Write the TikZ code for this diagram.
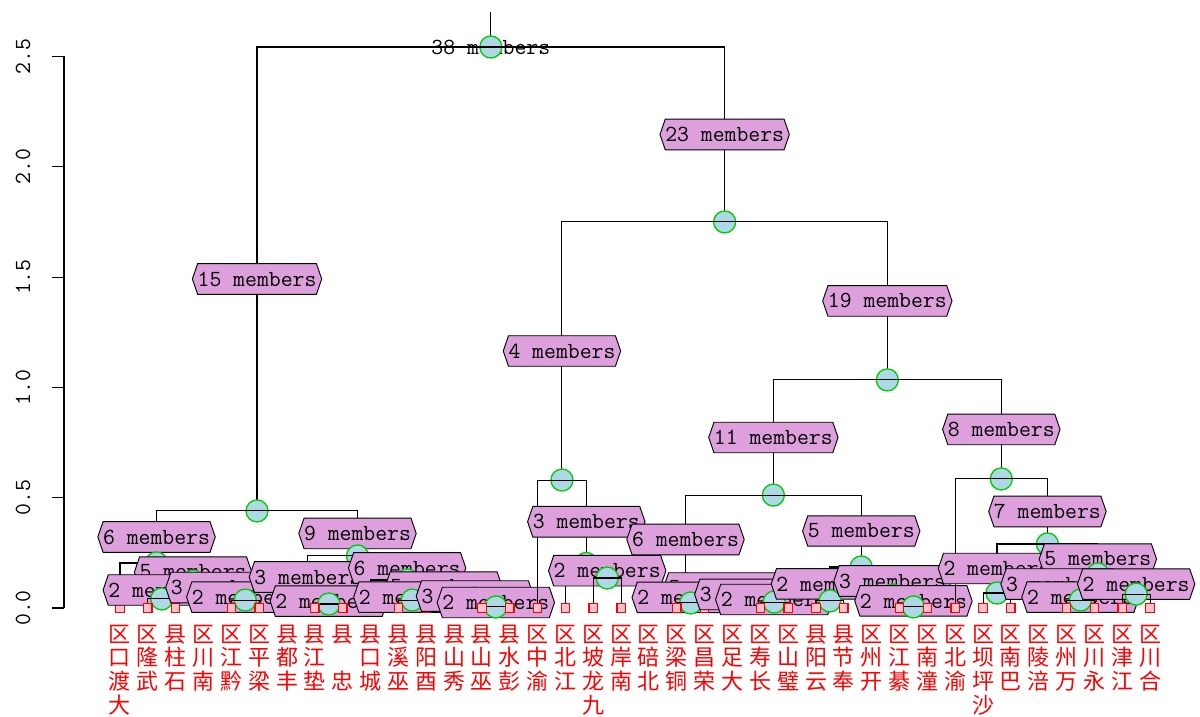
\documentclass[tikz,border=0pt]{standalone}
\usepackage{fontspec}
\newfontfamily\cjk{Noto Sans CJK SC}
\usetikzlibrary{calc,shapes.symbols}
\definecolor{plumbox}{HTML}{DDA0DD}
\definecolor{nodeblue}{HTML}{ADD8E6}
\definecolor{nodegreen}{HTML}{00CD00}
\definecolor{leafpink}{HTML}{FFC0CB}

\begin{document}
\begin{tikzpicture}[
    x=20.88pt, y=165.45pt,
    branch/.style={line width=0.8pt},
    inode/.style={circle, draw=nodegreen, fill=nodeblue, line width=1pt, minimum size=16.5pt, inner sep=0pt},
    leafbox/.style={rectangle, draw=red, fill=leafpink, line width=0.9pt, minimum size=6.3pt, inner sep=0pt},
    elab/.style={signal, signal to=east and west, signal pointer angle=142, draw, fill=plumbox, line width=0.7pt, inner xsep=0pt, inner ysep=6pt, font=\fontsize{17.3}{20}\selectfont\ttfamily},
    leaflab/.style={anchor=north, text=red, align=center, inner sep=0pt, font=\fontsize{16.5}{17.8}\selectfont\cjk}
  ]
    \useasboundingbox (-3.3103,-0.4941) rectangle (39.7931,2.7561);
    % axis
    \coordinate (ax0) at (-1.0115,0);
    \coordinate (ax1) at (-1.0115,2.5);
    \draw[branch] (ax0) -- (ax1);
    \foreach \t in {0.0,0.5,1.0,1.5,2.0,2.5} {
      \draw[branch] (-1.0115,\t) -- (-1.46,\t);
      \node[rotate=90, font=\fontsize{17.3}{20}\selectfont\ttfamily] (tick\t) at (-2.48,\t) {\t};
    }
    % leaves and merge heights
    \foreach \i in {1,...,38} \coordinate (l\i) at (\i,0);
    \coordinate (g1to38) at (14.3203,2.543);
    \coordinate (top) at (14.3203,2.702);
    \coordinate (g1to15) at (5.921875,0.440);
    \coordinate (g1to6) at (2.3125,0.204);
    \coordinate (g2to6) at (3.625,0.122);
    \coordinate (g2to3) at (2.5,0.041);
    \coordinate (g4to6) at (4.75,0.063);
    \coordinate (g5to6) at (5.5,0.036);
    \coordinate (g7to15) at (9.53125,0.236);
    \coordinate (g7to9) at (7.75,0.045);
    \coordinate (g8to9) at (8.5,0.018);
    \coordinate (g10to15) at (11.3125,0.127);
    \coordinate (g11to15) at (12.625,0.063);
    \coordinate (g11to12) at (11.5,0.036);
    \coordinate (g13to15) at (13.75,0.045);
    \coordinate (g14to15) at (14.5,0.005);
    \coordinate (g16to38) at (22.71875,1.750);
    \coordinate (g16to19) at (16.875,0.580);
    \coordinate (g17to19) at (17.75,0.202);
    \coordinate (g18to19) at (18.5,0.136);
    \coordinate (g20to38) at (28.5625,1.034);
    \coordinate (g20to30) at (24.46875,0.512);
    \coordinate (g20to25) at (21.3125,0.109);
    \coordinate (g21to25) at (22.625,0.073);
    \coordinate (g21to22) at (21.5,0.023);
    \coordinate (g23to25) at (23.75,0.050);
    \coordinate (g24to25) at (24.5,0.027);
    \coordinate (g26to30) at (27.625,0.186);
    \coordinate (g26to27) at (26.5,0.032);
    \coordinate (g28to30) at (28.75,0.059);
    \coordinate (g29to30) at (29.5,0.005);
    \coordinate (g31to38) at (32.65625,0.585);
    \coordinate (g32to38) at (34.3125,0.290);
    \coordinate (g32to33) at (32.5,0.068);
    \coordinate (g34to38) at (36.125,0.154);
    \coordinate (g34to36) at (34.75,0.063);
    \coordinate (g35to36) at (35.5,0.036);
    \coordinate (g37to38) at (37.5,0.063);

    % root
    \draw[branch] (g1to38) -- (top);
    \node[inner sep=0pt, font=\fontsize{17.3}{20}\selectfont\ttfamily] (t1to38) at (g1to38) {38 members};
    \node[inode] (o1to38) at (g1to38) {};
    % left part, 15 members
    \draw[branch] (g1to38) -| (g1to15);
    \node[elab] (t1to15) at ($(g1to15)!.5!(g1to15 |- g1to38)$) {15 members};
    \node[inode] (o1to15) at (g1to15) {};
    \draw[branch] (g1to15) -| (g1to6);
    \node[elab] (t1to6) at ($(g1to6)!.5!(g1to6 |- g1to15)$) {6 members};
    \node[inode] (o1to6) at (g1to6) {};
    \draw[branch] (g1to6) -| (l1); \node[leafbox] (s1) at (l1) {};
    \draw[branch] (g1to6) -| (g2to6);
    \node[elab] (t2to6) at ($(g2to6)!.5!(g2to6 |- g1to6)$) {5 members};
    \node[inode] (o2to6) at (g2to6) {};
    \draw[branch] (g2to6) -| (g2to3);
    \node[elab] (t2to3) at ($(g2to3)!.5!(g2to3 |- g2to6)$) {2 members};
    \node[inode] (o2to3) at (g2to3) {};
    \draw[branch] (g2to3) -| (l2); \node[leafbox] (s2) at (l2) {};
    \draw[branch] (g2to3) -| (l3); \node[leafbox] (s3) at (l3) {};
    \draw[branch] (g2to6) -| (g4to6);
    \node[elab] (t4to6) at ($(g4to6)!.5!(g4to6 |- g2to6)$) {3 members};
    \node[inode] (o4to6) at (g4to6) {};
    \draw[branch] (g4to6) -| (l4); \node[leafbox] (s4) at (l4) {};
    \draw[branch] (g4to6) -| (g5to6);
    \node[elab] (t5to6) at ($(g5to6)!.5!(g5to6 |- g4to6)$) {2 members};
    \node[inode] (o5to6) at (g5to6) {};
    \draw[branch] (g5to6) -| (l5); \node[leafbox] (s5) at (l5) {};
    \draw[branch] (g5to6) -| (l6); \node[leafbox] (s6) at (l6) {};
    \draw[branch] (g1to15) -| (g7to15);
    \node[elab] (t7to15) at ($(g7to15)!.5!(g7to15 |- g1to15)$) {9 members};
    \node[inode] (o7to15) at (g7to15) {};
    \draw[branch] (g7to15) -| (g7to9);
    \node[elab] (t7to9) at ($(g7to9)!.5!(g7to9 |- g7to15)$) {3 members};
    \node[inode] (o7to9) at (g7to9) {};
    \draw[branch] (g7to9) -| (l7); \node[leafbox] (s7) at (l7) {};
    \draw[branch] (g7to9) -| (g8to9);
    \node[elab] (t8to9) at ($(g8to9)!.5!(g8to9 |- g7to9)$) {2 members};
    \node[inode] (o8to9) at (g8to9) {};
    \draw[branch] (g8to9) -| (l8); \node[leafbox] (s8) at (l8) {};
    \draw[branch] (g8to9) -| (l9); \node[leafbox] (s9) at (l9) {};
    \draw[branch] (g7to15) -| (g10to15);
    \node[elab] (t10to15) at ($(g10to15)!.5!(g10to15 |- g7to15)$) {6 members};
    \node[inode] (o10to15) at (g10to15) {};
    \draw[branch] (g10to15) -| (l10); \node[leafbox] (s10) at (l10) {};
    \draw[branch] (g10to15) -| (g11to15);
    \node[elab] (t11to15) at ($(g11to15)!.5!(g11to15 |- g10to15)$) {5 members};
    \node[inode] (o11to15) at (g11to15) {};
    \draw[branch] (g11to15) -| (g11to12);
    \node[elab] (t11to12) at ($(g11to12)!.5!(g11to12 |- g11to15)$) {2 members};
    \node[inode] (o11to12) at (g11to12) {};
    \draw[branch] (g11to12) -| (l11); \node[leafbox] (s11) at (l11) {};
    \draw[branch] (g11to12) -| (l12); \node[leafbox] (s12) at (l12) {};
    \draw[branch] (g11to15) -| (g13to15);
    \node[elab] (t13to15) at ($(g13to15)!.5!(g13to15 |- g11to15)$) {3 members};
    \node[inode] (o13to15) at (g13to15) {};
    \draw[branch] (g13to15) -| (l13); \node[leafbox] (s13) at (l13) {};
    \draw[branch] (g13to15) -| (g14to15);
    \node[elab] (t14to15) at ($(g14to15)!.5!(g14to15 |- g13to15)$) {2 members};
    \node[inode] (o14to15) at (g14to15) {};
    \draw[branch] (g14to15) -| (l14); \node[leafbox] (s14) at (l14) {};
    \draw[branch] (g14to15) -| (l15); \node[leafbox] (s15) at (l15) {};
    % right part, 23 members
    \draw[branch] (g1to38) -| (g16to38);
    \node[elab] (t16to38) at ($(g16to38)!.5!(g16to38 |- g1to38)$) {23 members};
    \node[inode] (o16to38) at (g16to38) {};
    \draw[branch] (g16to38) -| (g16to19);
    \node[elab] (t16to19) at ($(g16to19)!.5!(g16to19 |- g16to38)$) {4 members};
    \node[inode] (o16to19) at (g16to19) {};
    \draw[branch] (g16to19) -| (l16); \node[leafbox] (s16) at (l16) {};
    \draw[branch] (g16to19) -| (g17to19);
    \node[elab] (t17to19) at ($(g17to19)!.5!(g17to19 |- g16to19)$) {3 members};
    \node[inode] (o17to19) at (g17to19) {};
    \draw[branch] (g17to19) -| (l17); \node[leafbox] (s17) at (l17) {};
    \draw[branch] (g17to19) -| (g18to19);
    \node[elab] (t18to19) at ($(g18to19)!.5!(g18to19 |- g17to19)$) {2 members};
    \node[inode] (o18to19) at (g18to19) {};
    \draw[branch] (g18to19) -| (l18); \node[leafbox] (s18) at (l18) {};
    \draw[branch] (g18to19) -| (l19); \node[leafbox] (s19) at (l19) {};
    \draw[branch] (g16to38) -| (g20to38);
    \node[elab] (t20to38) at ($(g20to38)!.5!(g20to38 |- g16to38)$) {19 members};
    \node[inode] (o20to38) at (g20to38) {};
    \draw[branch] (g20to38) -| (g20to30);
    \node[elab] (t20to30) at ($(g20to30)!.5!(g20to30 |- g20to38)$) {11 members};
    \node[inode] (o20to30) at (g20to30) {};
    \draw[branch] (g20to30) -| (g20to25);
    \node[elab] (t20to25) at ($(g20to25)!.5!(g20to25 |- g20to30)$) {6 members};
    \node[inode] (o20to25) at (g20to25) {};
    \draw[branch] (g20to25) -| (l20); \node[leafbox] (s20) at (l20) {};
    \draw[branch] (g20to25) -| (g21to25);
    \node[elab] (t21to25) at ($(g21to25)!.5!(g21to25 |- g20to25)$) {5 members};
    \node[inode] (o21to25) at (g21to25) {};
    \draw[branch] (g21to25) -| (g21to22);
    \node[elab] (t21to22) at ($(g21to22)!.5!(g21to22 |- g21to25)$) {2 members};
    \node[inode] (o21to22) at (g21to22) {};
    \draw[branch] (g21to22) -| (l21); \node[leafbox] (s21) at (l21) {};
    \draw[branch] (g21to22) -| (l22); \node[leafbox] (s22) at (l22) {};
    \draw[branch] (g21to25) -| (g23to25);
    \node[elab] (t23to25) at ($(g23to25)!.5!(g23to25 |- g21to25)$) {3 members};
    \node[inode] (o23to25) at (g23to25) {};
    \draw[branch] (g23to25) -| (l23); \node[leafbox] (s23) at (l23) {};
    \draw[branch] (g23to25) -| (g24to25);
    \node[elab] (t24to25) at ($(g24to25)!.5!(g24to25 |- g23to25)$) {2 members};
    \node[inode] (o24to25) at (g24to25) {};
    \draw[branch] (g24to25) -| (l24); \node[leafbox] (s24) at (l24) {};
    \draw[branch] (g24to25) -| (l25); \node[leafbox] (s25) at (l25) {};
    \draw[branch] (g20to30) -| (g26to30);
    \node[elab] (t26to30) at ($(g26to30)!.5!(g26to30 |- g20to30)$) {5 members};
    \node[inode] (o26to30) at (g26to30) {};
    \draw[branch] (g26to30) -| (g26to27);
    \node[elab] (t26to27) at ($(g26to27)!.5!(g26to27 |- g26to30)$) {2 members};
    \node[inode] (o26to27) at (g26to27) {};
    \draw[branch] (g26to27) -| (l26); \node[leafbox] (s26) at (l26) {};
    \draw[branch] (g26to27) -| (l27); \node[leafbox] (s27) at (l27) {};
    \draw[branch] (g26to30) -| (g28to30);
    \node[elab] (t28to30) at ($(g28to30)!.5!(g28to30 |- g26to30)$) {3 members};
    \node[inode] (o28to30) at (g28to30) {};
    \draw[branch] (g28to30) -| (l28); \node[leafbox] (s28) at (l28) {};
    \draw[branch] (g28to30) -| (g29to30);
    \node[elab] (t29to30) at ($(g29to30)!.5!(g29to30 |- g28to30)$) {2 members};
    \node[inode] (o29to30) at (g29to30) {};
    \draw[branch] (g29to30) -| (l29); \node[leafbox] (s29) at (l29) {};
    \draw[branch] (g29to30) -| (l30); \node[leafbox] (s30) at (l30) {};
    \draw[branch] (g20to38) -| (g31to38);
    \node[elab] (t31to38) at ($(g31to38)!.5!(g31to38 |- g20to38)$) {8 members};
    \node[inode] (o31to38) at (g31to38) {};
    \draw[branch] (g31to38) -| (l31); \node[leafbox] (s31) at (l31) {};
    \draw[branch] (g31to38) -| (g32to38);
    \node[elab] (t32to38) at ($(g32to38)!.5!(g32to38 |- g31to38)$) {7 members};
    \node[inode] (o32to38) at (g32to38) {};
    \draw[branch] (g32to38) -| (g32to33);
    \node[elab] (t32to33) at ($(g32to33)!.5!(g32to33 |- g32to38)$) {2 members};
    \node[inode] (o32to33) at (g32to33) {};
    \draw[branch] (g32to33) -| (l32); \node[leafbox] (s32) at (l32) {};
    \draw[branch] (g32to33) -| (l33); \node[leafbox] (s33) at (l33) {};
    \draw[branch] (g32to38) -| (g34to38);
    \node[elab] (t34to38) at ($(g34to38)!.5!(g34to38 |- g32to38)$) {5 members};
    \node[inode] (o34to38) at (g34to38) {};
    \draw[branch] (g34to38) -| (g34to36);
    \node[elab] (t34to36) at ($(g34to36)!.5!(g34to36 |- g34to38)$) {3 members};
    \node[inode] (o34to36) at (g34to36) {};
    \draw[branch] (g34to36) -| (l34); \node[leafbox] (s34) at (l34) {};
    \draw[branch] (g34to36) -| (g35to36);
    \node[elab] (t35to36) at ($(g35to36)!.5!(g35to36 |- g34to36)$) {2 members};
    \node[inode] (o35to36) at (g35to36) {};
    \draw[branch] (g35to36) -| (l35); \node[leafbox] (s35) at (l35) {};
    \draw[branch] (g35to36) -| (l36); \node[leafbox] (s36) at (l36) {};
    \draw[branch] (g34to38) -| (g37to38);
    \node[elab] (t37to38) at ($(g37to38)!.5!(g37to38 |- g34to38)$) {2 members};
    \node[inode] (o37to38) at (g37to38) {};
    \draw[branch] (g37to38) -| (l37); \node[leafbox] (s37) at (l37) {};
    \draw[branch] (g37to38) -| (l38); \node[leafbox] (s38) at (l38) {};

    % leaf labels
    \foreach \i/\s in {1/区\\口\\渡\\大, 2/区\\隆\\武, 3/县\\柱\\石, 4/区\\川\\南,
        5/区\\江\\黔, 6/区\\平\\梁, 7/县\\都\\丰, 8/县\\江\\垫, 9/县\\　\\忠,
        10/县\\口\\城, 11/县\\溪\\巫, 12/县\\阳\\酉, 13/县\\山\\秀, 14/县\\山\\巫,
        15/县\\水\\彭, 16/区\\中\\渝, 17/区\\北\\江, 18/区\\坡\\龙\\九, 19/区\\岸\\南,
        20/区\\碚\\北, 21/区\\梁\\铜, 22/区\\昌\\荣, 23/区\\足\\大, 24/区\\寿\\长,
        25/区\\山\\璧, 26/县\\阳\\云, 27/县\\节\\奉, 28/区\\州\\开, 29/区\\江\\綦,
        30/区\\南\\潼, 31/区\\北\\渝, 32/区\\坝\\坪\\沙, 33/区\\南\\巴, 34/区\\陵\\涪,
        35/区\\州\\万, 36/区\\川\\永, 37/区\\津\\江, 38/区\\川\\合}
      \node[leaflab] (lab\i) at ($(l\i)+(0,-0.075)$) {\s};
  \end{tikzpicture}
\end{document}
